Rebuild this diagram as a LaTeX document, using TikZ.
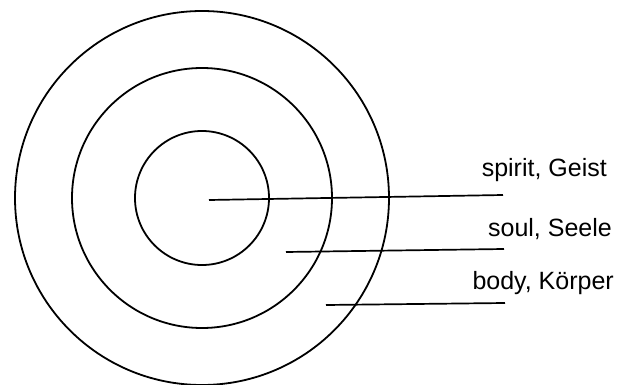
\documentclass[tikz,border=0pt]{standalone}
\usepackage{fontspec}
\setmainfont{Liberation Sans}
\begin{document}
\begin{tikzpicture}[x=1pt,y=-1pt,
  ring/.style={line width=1.8pt},
  lead/.style={line width=1.7pt},
  lbl/.style={anchor=base east,inner sep=0pt,font=\fontsize{25}{30}\selectfont}]
\useasboundingbox (0,0) rectangle (625,385);
\coordinate (c) at (202,198);
\draw[ring] (c) circle[radius=187];
\draw[ring] (c) circle[radius=130];
\draw[ring] (c) circle[radius=67];
\node[lbl] (spirit) at (607,177) {spirit, Geist};
\node[lbl] (soul) at (612,237) {soul, Seele};
\node[lbl] (body) at (614,290) {body, Körper};
\coordinate (s1) at (209,200);
\coordinate (s2) at (503,195);
\coordinate (o1) at (286,252);
\coordinate (o2) at (504,249);
\coordinate (b1) at (326,305);
\coordinate (b2) at (505,303);
\draw[lead] (s1) -- (s2);
\draw[lead] (o1) -- (o2);
\draw[lead] (b1) -- (b2);
\end{tikzpicture}
\end{document}
